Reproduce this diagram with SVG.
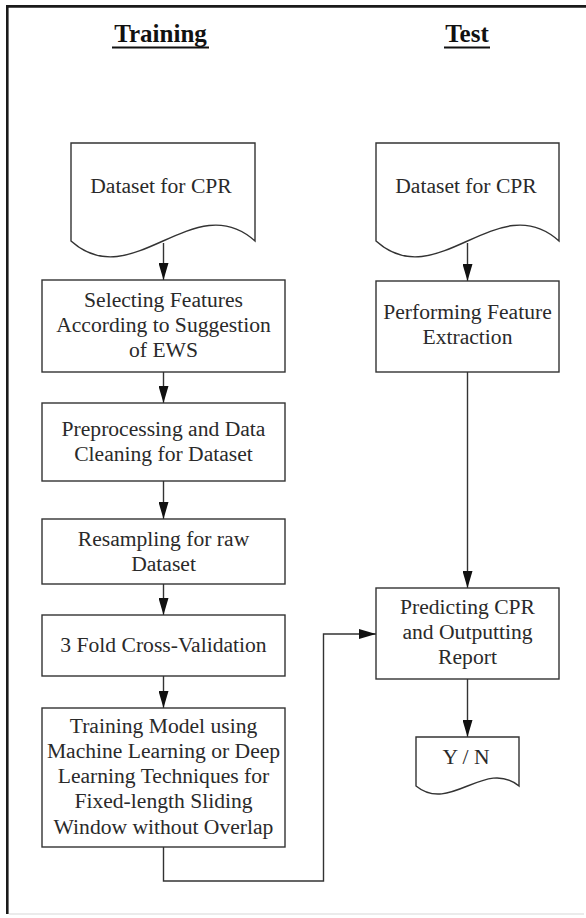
<svg xmlns="http://www.w3.org/2000/svg" width="586" height="918" viewBox="0 0 586 918">
  <defs>
    <marker id="arr" viewBox="0 0 17 10" markerWidth="17" markerHeight="10" refX="17" refY="5" orient="auto" markerUnits="userSpaceOnUse">
      <path d="M0,0 L17,5 L0,10 Z" fill="#111"/>
    </marker>
    <style>
      .box { fill: #fff; stroke: #333; stroke-width: 1.4; }
      .lbl { font-family: "Liberation Serif", "Times New Roman", serif; font-size: 21.6px; fill: #2a2a2a; text-anchor: middle; }
      .title { font-family: "Liberation Serif", "Times New Roman", serif; font-size: 25px; font-weight: bold; fill: #111; text-anchor: middle; }
      .conn { fill: none; stroke: #333; stroke-width: 1.4; }
    </style>
  </defs>
  <rect x="0" y="0" width="586" height="918" fill="#fff"/>
  <!-- frame -->
  <g id="frame">
    <line x1="7.3" y1="5" x2="7.3" y2="914" stroke="#1a1a1a" stroke-width="2.6"/>
    <line x1="6" y1="6.4" x2="586" y2="6.4" stroke="#1a1a1a" stroke-width="2.6"/>
    <line x1="9" y1="914" x2="584" y2="914" stroke="#e4e4e4" stroke-width="1.5"/>
  </g>
  <!-- titles -->
  <g id="title-training">
    <text class="title" x="160.5" y="42">Training</text>
    <line x1="112" y1="47.5" x2="209" y2="47.5" stroke="#111" stroke-width="2"/>
  </g>
  <g id="title-test">
    <text class="title" x="467" y="42">Test</text>
    <line x1="444" y1="47.5" x2="490" y2="47.5" stroke="#111" stroke-width="2"/>
  </g>
  <!-- connectors -->
  <g id="connectors">
    <path class="conn" d="M163.5,243 V280" marker-end="url(#arr)"/>
    <path class="conn" d="M163.5,372 V403" marker-end="url(#arr)"/>
    <path class="conn" d="M163.5,481 V519" marker-end="url(#arr)"/>
    <path class="conn" d="M163.5,584 V615" marker-end="url(#arr)"/>
    <path class="conn" d="M163.5,676 V708" marker-end="url(#arr)"/>
    <path class="conn" d="M163.5,847 V881 H323.5 V634 H376" marker-end="url(#arr)"/>
    <path class="conn" d="M467.5,243 V281" marker-end="url(#arr)"/>
    <path class="conn" d="M467.5,372 V588" marker-end="url(#arr)"/>
    <path class="conn" d="M467.5,679 V737" marker-end="url(#arr)"/>
  </g>
  <!-- training column -->
  <g id="train-dataset">
    <path class="box" d="M71,143 H255 V241 C193.7,186 132.3,296 71,241 Z"/>
    <text class="lbl" x="161" y="192.5">Dataset for CPR</text>
  </g>
  <g id="select-features">
    <rect class="box" x="42" y="280" width="243" height="92"/>
    <text class="lbl" x="163.5" y="307">Selecting Features</text>
    <text class="lbl" x="163.5" y="332">According to Suggestion</text>
    <text class="lbl" x="163.5" y="357">of EWS</text>
  </g>
  <g id="preprocessing">
    <rect class="box" x="42" y="403" width="243" height="78"/>
    <text class="lbl" x="163.5" y="436">Preprocessing and Data</text>
    <text class="lbl" x="163.5" y="461">Cleaning for Dataset</text>
  </g>
  <g id="resampling">
    <rect class="box" x="42" y="519" width="243" height="65"/>
    <text class="lbl" x="163.5" y="546">Resampling for raw</text>
    <text class="lbl" x="163.5" y="571">Dataset</text>
  </g>
  <g id="cross-validation">
    <rect class="box" x="42" y="615" width="243" height="61"/>
    <text class="lbl" x="163.5" y="652">3 Fold Cross-Validation</text>
  </g>
  <g id="training-model">
    <rect class="box" x="42" y="708" width="243" height="139"/>
    <text class="lbl" x="163.5" y="733">Training Model using</text>
    <text class="lbl" x="163.5" y="758">Machine Learning or Deep</text>
    <text class="lbl" x="163.5" y="783">Learning Techniques for</text>
    <text class="lbl" x="163.5" y="808">Fixed-length Sliding</text>
    <text class="lbl" x="163.5" y="834">Window without Overlap</text>
  </g>
  <!-- test column -->
  <g id="test-dataset">
    <path class="box" d="M376,143 H559 V241 C498,186 437,296 376,241 Z"/>
    <text class="lbl" x="466" y="192.5">Dataset for CPR</text>
  </g>
  <g id="feature-extraction">
    <rect class="box" x="376" y="281" width="183" height="91"/>
    <text class="lbl" x="467.5" y="318.5">Performing Feature</text>
    <text class="lbl" x="467.5" y="344">Extraction</text>
  </g>
  <g id="predicting">
    <rect class="box" x="376" y="588" width="183" height="91"/>
    <text class="lbl" x="467.5" y="614">Predicting CPR</text>
    <text class="lbl" x="467.5" y="639">and Outputting</text>
    <text class="lbl" x="467.5" y="664">Report</text>
  </g>
  <g id="yn-output">
    <path class="box" d="M416,737 H519 V786 C484.7,758 450.3,814 416,786 Z"/>
    <text class="lbl" x="466" y="764">Y / N</text>
  </g>
</svg>
